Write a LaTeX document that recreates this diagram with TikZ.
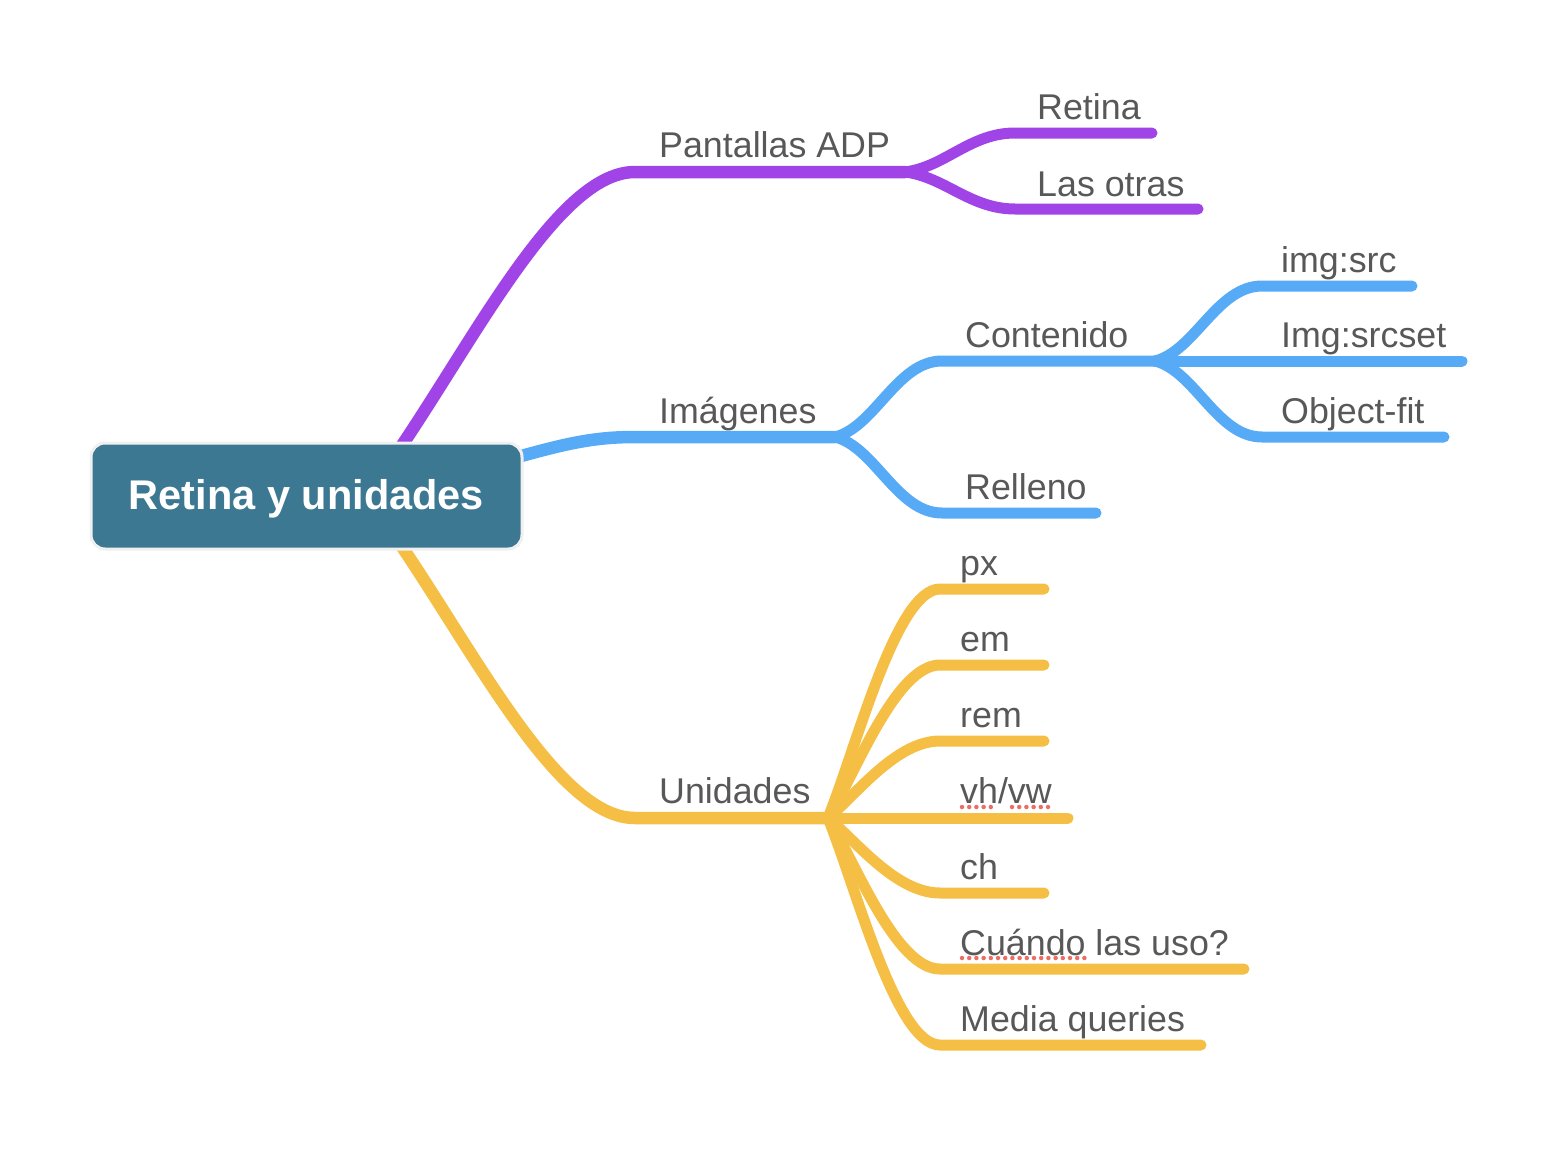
\documentclass[tikz,border=0pt]{standalone}
\usepackage{fontspec}
\setmainfont{Liberation Sans}
\definecolor{purp}{HTML}{A044E8}
\definecolor{blu}{HTML}{57AAF6}
\definecolor{yel}{HTML}{F5BF45}
\definecolor{rootfill}{HTML}{3D7893}
\definecolor{rootedge}{HTML}{F0F0F0}
\definecolor{txt}{HTML}{585858}
\definecolor{spell}{HTML}{EB6E64}
\begin{document}
\begin{tikzpicture}[x=1pt,y=-1pt,
  lbl/.style={anchor=base west, inner sep=0pt, text=txt, font=\fontsize{35.8}{40}\selectfont},
  mainline/.style={line width=12.5pt, line cap=round},
  subline/.style={line width=11pt, line cap=round},
  spellmark/.style={draw=spell, line width=4.5pt, line cap=round, dash pattern=on 0pt off 7.2pt},
  rootbox/.style={fill=rootfill, draw=rootedge, line width=3pt, rounded corners=14pt,
    minimum width=431pt, minimum height=106pt, text=white, inner sep=0pt,
    text height=29pt, text depth=3pt,
    font=\bfseries\fontsize{41.5}{48}\selectfont}]
\useasboundingbox (0,0) rectangle (1564,1172);

% ---------- coordinates ----------
\coordinate (rP) at (385,470);
\coordinate (rB) at (500,462);
\coordinate (rY) at (385,522);
\coordinate (pA) at (635,172);
\coordinate (pB) at (905,172);
\coordinate (pRa) at (1015,133); \coordinate (pRb) at (1152,133);
\coordinate (pOa) at (1015,209); \coordinate (pOb) at (1198,209);
\coordinate (bA) at (635,437);
\coordinate (bB) at (835,437);
\coordinate (bCa) at (942,361); \coordinate (bCb) at (1155,361);
\coordinate (bRa) at (942,513); \coordinate (bRb) at (1096,513);
\coordinate (bSa) at (1262,286); \coordinate (bSb) at (1412,286);
\coordinate (bTb) at (1462,361);
\coordinate (bOa) at (1262,437); \coordinate (bOb) at (1444,437);
\coordinate (yA) at (635,818);
\coordinate (yB) at (828,818);
\coordinate (y1a) at (940,589);  \coordinate (y1b) at (1044,589);
\coordinate (y2a) at (940,665);  \coordinate (y2b) at (1044,665);
\coordinate (y3a) at (940,741);  \coordinate (y3b) at (1044,741);
\coordinate (y4b) at (1068,818);
\coordinate (y5a) at (940,893);  \coordinate (y5b) at (1044,893);
\coordinate (y6a) at (940,969);  \coordinate (y6b) at (1244,969);
\coordinate (y7a) at (940,1045); \coordinate (y7b) at (1201,1045);

% ---------- purple ----------
\draw[mainline, purp] (rP) .. controls (470,350) and (555,172) .. (pA) -- (pB);
\draw[subline, purp] (pB) .. controls +(40,-5) and +(-45,0) .. (pRa) -- (pRb);
\draw[subline, purp] (pB) .. controls +(40,5) and +(-45,0) .. (pOa) -- (pOb);

% ---------- blue ----------
\draw[mainline, blu] (rB) .. controls (560,445) and (590,437) .. (bA) -- (bB);
\draw[subline, blu] (bB) .. controls +(40,-10) and +(-45,0) .. (bCa) -- (bCb);
\draw[subline, blu] (bB) .. controls +(40,10) and +(-45,0) .. (bRa) -- (bRb);
\draw[subline, blu] (bCb) .. controls +(40,-10) and +(-45,0) .. (bSa) -- (bSb);
\draw[subline, blu] (bCb) -- (bTb);
\draw[subline, blu] (bCb) .. controls +(40,10) and +(-45,0) .. (bOa) -- (bOb);

% ---------- yellow ----------
\draw[mainline, yel] (rY) .. controls (470,642) and (555,818) .. (yA) -- (yB);
\draw[subline, yel] (yB) .. controls +(28,-69) and +(-44,0) .. (y1a) -- (y1b);
\draw[subline, yel] (yB) .. controls +(28,-46) and +(-44,0) .. (y2a) -- (y2b);
\draw[subline, yel] (yB) .. controls +(28,-23) and +(-44,0) .. (y3a) -- (y3b);
\draw[subline, yel] (yB) -- (y4b);
\draw[subline, yel] (yB) .. controls +(28,23) and +(-44,0) .. (y5a) -- (y5b);
\draw[subline, yel] (yB) .. controls +(28,46) and +(-44,0) .. (y6a) -- (y6b);
\draw[subline, yel] (yB) .. controls +(28,69) and +(-44,0) .. (y7a) -- (y7b);

% ---------- root ----------
\node[rootbox] (root) at (306.5,496) {Retina y unidades};

% ---------- labels ----------
\node[lbl] (lPant) at (659,157) {Pantallas ADP};
\node[lbl] (lRet)  at (1037,119) {Retina};
\node[lbl] (lOtr)  at (1037,196) {Las otras};
\node[lbl] (lImg)  at (659,423) {Imágenes};
\node[lbl] (lCon)  at (965,347) {Contenido};
\node[lbl] (lRel)  at (965,499) {Relleno};
\node[lbl] (lSrc)  at (1281,272) {img:src};
\node[lbl] (lSet)  at (1281,347) {Img:srcset};
\node[lbl] (lFit)  at (1281,423) {Object-fit};
\node[lbl] (lUni)  at (659,803) {Unidades};
\node[lbl] (lpx)   at (960,575) {px};
\node[lbl] (lem)   at (960,651) {em};
\node[lbl] (lrem)  at (960,727) {rem};
\node[lbl] (lvh)   at (960,803) {vh/vw};
\node[lbl] (lch)   at (960,879) {ch};
\node[lbl] (lcua)  at (960,955) {Cuándo las uso?};
\node[lbl] (lmed)  at (960,1031) {Media queries};

% ---------- spell-check underlines ----------
\coordinate (s1a) at (962,807); \coordinate (s1b) at (997,807);
\coordinate (s2a) at (1012,807); \coordinate (s2b) at (1055,807);
\coordinate (s3a) at (962,958); \coordinate (s3b) at (1085,958);
\draw[spellmark] (s1a) -- (s1b);
\draw[spellmark] (s2a) -- (s2b);
\draw[spellmark] (s3a) -- (s3b);
\end{tikzpicture}
\end{document}
